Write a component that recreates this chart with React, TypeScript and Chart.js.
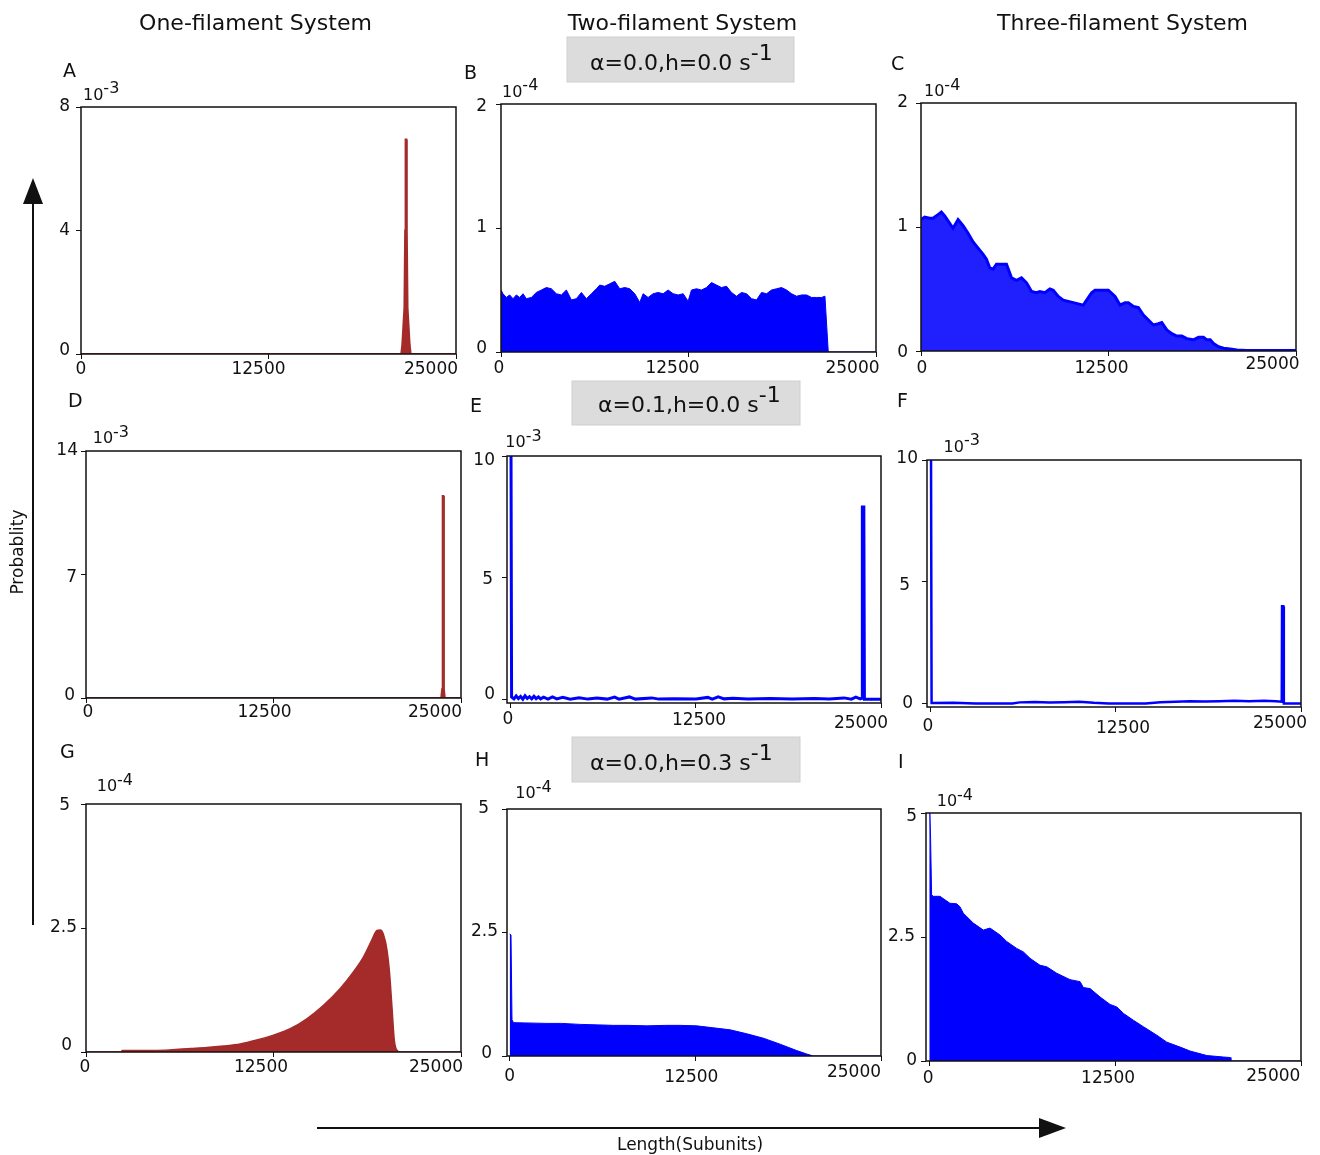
import React, { useEffect, useRef } from "react";
import { Chart, registerables } from "chart.js";
Chart.register(...registerables);

const FONT = '"DejaVu Sans", Verdana, sans-serif';
const BROWN = "#a52a2a";
const BLUE = "#0000ff";

// ---- data ----
const xTicks = [0, 12500, 25000];
const xTickLabels = ["0", "12500", "25000"];

const aX = [0, 21350, 21420, 21560, 21610, 21640, 21690, 21720, 21770, 21910, 21980, 25000];
const aY = [0, 0, 0.3, 1.5, 4.0, 6.95, 6.95, 4.0, 1.5, 0.3, 0, 0];
const aYTicks = [0, 4, 8];

const bX = [0, 133, 356, 578, 800, 1023, 1245, 1468, 1690, 2024, 2357, 2691, 3025, 3358, 3692, 4025, 4359, 4693, 5026, 5360, 5693, 6027, 6361, 6583, 6917, 7250, 7584, 7917, 8251, 8585, 8918, 9252, 9474, 9808, 10141, 10475, 10809, 11142, 11476, 11810, 12143, 12477, 12699, 13033, 13366, 13700, 14033, 14367, 14701, 15034, 15368, 15701, 16035, 16369, 16702, 17036, 17370, 17703, 18037, 18371, 18704, 19038, 19371, 19705, 20039, 20372, 20706, 21039, 21373, 21595, 21818, 25000];
const bY = [0.50, 0.47, 0.44, 0.46, 0.43, 0.46, 0.44, 0.47, 0.43, 0.44, 0.48, 0.50, 0.52, 0.51, 0.47, 0.46, 0.50, 0.42, 0.43, 0.48, 0.43, 0.47, 0.51, 0.54, 0.53, 0.55, 0.57, 0.51, 0.52, 0.51, 0.47, 0.40, 0.47, 0.44, 0.47, 0.48, 0.47, 0.50, 0.47, 0.46, 0.47, 0.41, 0.50, 0.51, 0.50, 0.52, 0.56, 0.54, 0.52, 0.53, 0.48, 0.45, 0.48, 0.47, 0.43, 0.42, 0.48, 0.47, 0.50, 0.51, 0.52, 0.50, 0.47, 0.45, 0.46, 0.46, 0.44, 0.44, 0.44, 0.45, 0, 0];
const bYTicks = [0, 1, 2];

const cX = [0, 245, 579, 801, 1135, 1358, 1581, 1803, 2137, 2471, 2805, 3139, 3473, 3807, 4141, 4363, 4586, 4809, 5031, 5699, 6033, 6367, 6701, 7035, 7369, 7703, 7925, 8259, 8593, 8816, 9150, 9484, 9818, 10151, 10485, 10819, 11042, 11376, 11599, 12155, 12489, 12934, 13268, 13602, 13825, 14159, 14493, 14826, 15160, 15494, 15828, 16051, 16385, 16719, 17053, 17387, 17721, 18166, 18500, 18834, 19058, 19280, 19502, 19836, 20169, 20614, 21060, 21728, 25000];
const cY = [1.06, 1.08, 1.07, 1.07, 1.10, 1.12, 1.09, 1.05, 0.99, 1.06, 1.01, 0.95, 0.88, 0.83, 0.78, 0.74, 0.67, 0.66, 0.70, 0.70, 0.59, 0.57, 0.59, 0.55, 0.48, 0.47, 0.48, 0.47, 0.50, 0.49, 0.44, 0.41, 0.40, 0.39, 0.38, 0.37, 0.41, 0.47, 0.49, 0.49, 0.49, 0.44, 0.37, 0.39, 0.39, 0.36, 0.35, 0.29, 0.25, 0.21, 0.22, 0.23, 0.17, 0.14, 0.12, 0.12, 0.10, 0.09, 0.11, 0.11, 0.09, 0.09, 0.06, 0.035, 0.022, 0.016, 0.008, 0.005, 0.005];
const cYTicks = [0, 1, 2];

const dX = [0, 23680, 23740, 23780, 23820, 23860, 23920, 25000];
const dY = [0, 0, 0.5, 11.45, 11.45, 0.5, 0, 0];
const dYTicks = [0, 7, 14];

const eX = [0, 40, 200, 350, 500, 650, 800, 950, 1100, 1250, 1400, 1550, 1700, 1850, 2000, 2200, 2500, 2800, 3100, 3500, 4000, 4600, 5200, 5800, 6500, 7000, 7300, 8000, 8400, 9500, 10000, 11000, 12500, 13300, 13600, 14000, 14400, 15000, 16000, 17500, 19000, 20500, 21500, 22500, 23000, 23300, 23600, 23720, 23740, 23840, 23880, 25000];
const eY = [10.6, 0.1, 0.02, 0.14, 0.03, 0.12, 0.01, 0.15, 0.04, 0.11, 0.02, 0.13, 0.03, 0.1, 0.02, 0.09, 0.01, 0.1, 0.02, 0.08, 0.01, 0.07, 0.01, 0.06, 0.01, 0.09, 0.01, 0.1, 0.01, 0.06, 0.01, 0.02, 0.01, 0.08, 0.01, 0.1, 0.02, 0.05, 0.01, 0.04, 0.01, 0.03, 0.01, 0.06, 0.01, 0.09, 0.02, 0.05, 7.9, 7.9, 0, 0];
const eYTicks = [0, 5, 10];

const fX = [0, 40, 1500, 3000, 5500, 6000, 7000, 8000, 9000, 10000, 11000, 12000, 14500, 15500, 16500, 17500, 18500, 19500, 20500, 21500, 22500, 23300, 23700, 23720, 23800, 23840, 25000];
const fY = [10.6, 0.02, 0.03, 0, 0, 0.05, 0.07, 0.04, 0.06, 0.08, 0.03, 0, 0, 0.05, 0.08, 0.1, 0.09, 0.1, 0.12, 0.1, 0.12, 0.1, 0.08, 4.0, 4.0, 0, 0];
const fYTicks = [0, 5, 10];

const gX = [0, 2380, 2400, 4715, 6939, 8052, 9164, 10276, 11388, 12500, 13612, 14724, 15836, 16948, 17838, 18505, 19061, 19395, 19618, 19840, 20062, 20240, 20396, 20552, 20774, 20952, 25000];
const gY = [0, 0, 0.03, 0.03, 0.07, 0.09, 0.12, 0.16, 0.24, 0.34, 0.47, 0.67, 0.94, 1.28, 1.62, 1.92, 2.26, 2.45, 2.46, 2.36, 2.06, 1.58, 0.91, 0.24, 0.02, 0, 0];
const gYTicks = [0, 2.5, 5];

const hX = [0, 90, 157, 269, 1000, 2511, 3500, 4753, 6000, 6995, 8000, 9237, 10500, 11479, 12600, 13721, 14842, 15963, 17084, 18205, 19326, 19999, 20447, 25000];
const hY = [2.47, 2.45, 0.73, 0.675, 0.67, 0.66, 0.66, 0.64, 0.63, 0.62, 0.62, 0.61, 0.62, 0.62, 0.61, 0.57, 0.53, 0.45, 0.36, 0.24, 0.11, 0.04, 0, 0];
const hYTicks = [0, 2.5, 5];

const iX = [0, 90, 157, 269, 718, 1391, 1840, 2064, 2289, 2962, 3635, 4084, 4757, 5206, 5879, 6328, 6777, 7450, 7899, 8572, 9470, 10143, 10367, 10816, 11489, 12162, 12611, 13060, 13733, 14406, 15304, 15977, 16875, 17548, 18670, 19792, 20241, 20285, 25000];
const iY = [5.6, 4.46, 3.35, 3.32, 3.32, 3.18, 3.17, 3.11, 2.98, 2.78, 2.64, 2.68, 2.54, 2.41, 2.27, 2.20, 2.07, 1.93, 1.90, 1.77, 1.64, 1.60, 1.48, 1.46, 1.29, 1.14, 1.09, 0.96, 0.82, 0.69, 0.52, 0.38, 0.28, 0.20, 0.11, 0.08, 0.07, 0, 0];
const iYTicks = [0, 2.5, 5];

const columnTitles = ["One-filament System", "Two-filament System", "Three-filament System"];
const conditionLabels = ["α=0.0,h=0.0 s", "α=0.1,h=0.0 s", "α=0.0,h=0.3 s"];
const conditionExp = "-1";
const yAxisTitle = "Probablity";
const xAxisTitle = "Length(Subunits)";

// ---- layout / style ----
type Panel = {
  letter: string;
  xs: number[];
  ys: number[];
  yTicks: number[];
  exp: string;
  xMin: number;
  yMin: number;
  yMax: number;
  color: string;
  fill: string | null;
  lw: number;
  smooth?: boolean;
  rect: [number, number, number, number];
  xdx: number[];
  xdy: number[];
  ygap: number[];
  ydy: number[];
  expPos: [number, number];
  letterPos: [number, number];
};

const panels: Panel[] = [
  { letter: "A", xs: aX, ys: aY, yTicks: aYTicks, exp: "-3", xMin: 0, yMin: 0, yMax: 8, color: BROWN, fill: BROWN, lw: 2,
    rect: [81, 107, 456, 354], xdx: [0, -10, -25], xdy: [16, 16, 16], ygap: [11, 11, 11], ydy: [-3, 0, 0], expPos: [2, -7.4], letterPos: [63, 77] },
  { letter: "B", xs: bX, ys: bY, yTicks: bYTicks, exp: "-4", xMin: 0, yMin: 0, yMax: 2, color: BLUE, fill: BLUE, lw: 1,
    rect: [501, 104, 876, 352], xdx: [-2, -16, -23.5], xdy: [16.5, 16.5, 16.5], ygap: [14, 14, 14], ydy: [-3, 0, 3], expPos: [1, -7.3], letterPos: [464, 79] },
  { letter: "C", xs: cX, ys: cY, yTicks: cYTicks, exp: "-4", xMin: 0, yMin: 0, yMax: 2, color: BLUE, fill: "#2020ff", lw: 3,
    rect: [921, 103, 1296, 351], xdx: [1, -7, -23.5], xdy: [18, 17.5, 14], ygap: [13, 13, 13], ydy: [2, 0, 0], expPos: [3, -6.6], letterPos: [891, 70] },
  { letter: "D", xs: dX, ys: dY, yTicks: dYTicks, exp: "-3", xMin: 0, yMin: 0, yMax: 14, color: BROWN, fill: BROWN, lw: 2,
    rect: [86, 451, 461, 698], xdx: [2, -9, -26], xdy: [15, 15, 15], ygap: [11, 9, 8], ydy: [-2, 3, 0], expPos: [6.7, -7.7], letterPos: [68, 407] },
  { letter: "E", xs: eX, ys: eY, yTicks: eYTicks, exp: "-3", xMin: -270, yMin: -0.15, yMax: 10, color: BLUE, fill: null, lw: 3,
    rect: [507, 456, 881, 703], xdx: [-3, 3, -20], xdy: [16.5, 17.3, 20.5], ygap: [12, 14, 12], ydy: [-5, 2, 5], expPos: [-1.7, -9], letterPos: [470, 412] },
  { letter: "F", xs: fX, ys: fY, yTicks: fYTicks, exp: "-3", xMin: -270, yMin: -0.14, yMax: 10, color: BLUE, fill: null, lw: 2.5,
    rect: [927, 460, 1301, 707], xdx: [-3, 7, -21], xdy: [20, 22, 17], ygap: [14, 17, 9], ydy: [0, 4, -1], expPos: [16.6, -8.3], letterPos: [897, 407] },
  { letter: "G", xs: gX, ys: gY, yTicks: gYTicks, exp: "-4", xMin: 0, yMin: 0, yMax: 5, color: BROWN, fill: BROWN, lw: 1.5, smooth: true,
    rect: [86, 804, 461, 1052], xdx: [-1, -12.5, -25], xdy: [16, 16, 16], ygap: [14, 9, 16], ydy: [-6, 0, 2], expPos: [10.7, -13], letterPos: [60, 758] },
  { letter: "H", xs: hX, ys: hY, yTicks: hYTicks, exp: "-4", xMin: -180, yMin: 0, yMax: 5, color: BLUE, fill: BLUE, lw: 1,
    rect: [507, 809, 881, 1056], xdx: [0, -4, -27], xdy: [20.7, 22, 17], ygap: [15, 9, 18], ydy: [-2, -1, 0], expPos: [8.3, -10.7], letterPos: [475, 766] },
  { letter: "I", xs: iX, ys: iY, yTicks: iYTicks, exp: "-4", xMin: -220, yMin: 0, yMax: 5, color: BLUE, fill: BLUE, lw: 1,
    rect: [926, 813, 1301, 1061], xdx: [-1, -7, -27.7], xdy: [17.5, 18, 16], ygap: [9, 11, 9], ydy: [0, 0, 4], expPos: [10.7, -6.6], letterPos: [898, 768] },
];

const M = 45;

function PanelChart({ p }: { p: Panel }) {
  const ref = useRef<HTMLCanvasElement | null>(null);
  const [l, t, r, b] = p.rect;
  const w = r - l + 2 * M;
  const h = b - t + 2 * M;

  useEffect(() => {
    if (!ref.current) return;
    const deco = {
      id: "deco" + p.letter,
      afterDraw(chart: any) {
        const ctx = chart.ctx;
        const ca = chart.chartArea;
        const xs = chart.scales.x;
        const ys = chart.scales.y;
        ctx.save();
        ctx.strokeStyle = "#111";
        ctx.lineWidth = 1.5;
        ctx.strokeRect(ca.left, ca.top, ca.right - ca.left, ca.bottom - ca.top);
        ctx.fillStyle = "#111";
        ctx.font = `17px ${FONT}`;
        ctx.textAlign = "center";
        ctx.textBaseline = "middle";
        xTicks.forEach((v, i) => {
          ctx.fillText(xTickLabels[i], xs.getPixelForValue(v) + p.xdx[i], ca.bottom + p.xdy[i]);
        });
        ctx.textAlign = "right";
        p.yTicks.forEach((v, i) => {
          ctx.fillText(String(v), ca.left - p.ygap[i], ys.getPixelForValue(v) + p.ydy[i]);
        });
        ctx.font = `16px ${FONT}`;
        ctx.textAlign = "left";
        ctx.textBaseline = "alphabetic";
        const ex = ca.left + p.expPos[0];
        const ey = ca.top + p.expPos[1];
        ctx.fillText("10", ex, ey);
        const wBase = ctx.measureText("10").width;
        ctx.fillText(p.exp, ex + wBase, ey - 6.5);
        ctx.restore();
      },
    };
    const chart = new Chart(ref.current, {
      type: "line",
      data: {
        datasets: [
          {
            data: p.xs.map((x, i) => ({ x, y: p.ys[i] })),
            borderColor: p.color,
            backgroundColor: p.fill || "transparent",
            fill: p.fill ? "origin" : false,
            borderWidth: p.lw,
            pointRadius: 0,
            tension: p.smooth ? 0.35 : 0,
            cubicInterpolationMode: p.smooth ? "monotone" : "default",
            clip: 0,
          } as any,
        ],
      },
      options: {
        animation: false,
        responsive: false,
        maintainAspectRatio: false,
        events: [],
        layout: { padding: { left: M - 5, top: M, right: M, bottom: M - 5 } },
        plugins: { legend: { display: false }, tooltip: { enabled: false } },
        scales: {
          x: {
            type: "linear",
            min: p.xMin,
            max: 25000,
            afterBuildTicks: (s: any) => {
              s.ticks = xTicks.map((v) => ({ value: v }));
            },
            afterFit: (s: any) => {
              s.height = 5;
            },
            ticks: { display: false },
            grid: { display: true, drawOnChartArea: false, drawTicks: true, tickLength: 5, color: "#111", lineWidth: 1 },
            border: { display: false },
          },
          y: {
            type: "linear",
            min: p.yMin,
            max: p.yMax,
            afterBuildTicks: (s: any) => {
              s.ticks = p.yTicks.map((v) => ({ value: v }));
            },
            afterFit: (s: any) => {
              s.width = 5;
            },
            ticks: { display: false },
            grid: { display: true, drawOnChartArea: false, drawTicks: true, tickLength: 5, color: "#111", lineWidth: 1 },
            border: { display: false },
          },
        },
      } as any,
      plugins: [deco],
    });
    return () => chart.destroy();
  }, []);

  return (
    <canvas
      ref={ref}
      width={w}
      height={h}
      style={{ position: "absolute", left: l - M, top: t - M, width: w, height: h }}
    />
  );
}

const condBoxes: { rect: [number, number, number, number]; tx: number; ty: number }[] = [
  { rect: [567, 37, 794, 82], tx: 590, ty: 70 },
  { rect: [572, 381, 800, 425], tx: 598, ty: 411.5 },
  { rect: [572, 737, 800, 782], tx: 590, ty: 770 },
];
const titleCenters = [255.5, 682.5, 1122.5];

export default function App() {
  return (
    <div style={{ position: "absolute", left: 0, top: 0, width: 1320, height: 1155, background: "#fff", overflow: "hidden" }}>
      {panels.map((p) => (
        <PanelChart key={p.letter} p={p} />
      ))}
      <svg
        width={1320}
        height={1155}
        style={{ position: "absolute", left: 0, top: 0, pointerEvents: "none" }}
        fontFamily={FONT}
      >
        {columnTitles.map((t, i) => (
          <text key={t} x={titleCenters[i]} y={30} fontSize={22} textAnchor="middle" fill="#111">
            {t}
          </text>
        ))}
        {panels.map((p) => (
          <text key={"L" + p.letter} x={p.letterPos[0]} y={p.letterPos[1]} fontSize={19} fill="#111">
            {p.letter}
          </text>
        ))}
        {condBoxes.map((c, i) => (
          <g key={"c" + i}>
            <rect
              x={c.rect[0]}
              y={c.rect[1]}
              width={c.rect[2] - c.rect[0]}
              height={c.rect[3] - c.rect[1]}
              fill="#dcdcdc"
              stroke="#cfcfcf"
              strokeWidth={1}
            />
            <text x={c.tx} y={c.ty} fontSize={22} fill="#111">
              {conditionLabels[i]}
              <tspan dy={-10}>{conditionExp}</tspan>
            </text>
          </g>
        ))}
        <line x1={33} y1={200} x2={33} y2={925} stroke="#111" strokeWidth={2} />
        <polygon points="33,178 23,204 43,204" fill="#111" />
        <text transform="translate(22.5,552) rotate(-90)" fontSize={17} textAnchor="middle" fill="#111">
          {yAxisTitle}
        </text>
        <line x1={317} y1={1128} x2={1045} y2={1128} stroke="#111" strokeWidth={2} />
        <polygon points="1066,1128 1039,1118 1039,1138" fill="#111" />
        <text x={690} y={1150} fontSize={17} textAnchor="middle" fill="#111">
          {xAxisTitle}
        </text>
      </svg>
    </div>
  );
}
